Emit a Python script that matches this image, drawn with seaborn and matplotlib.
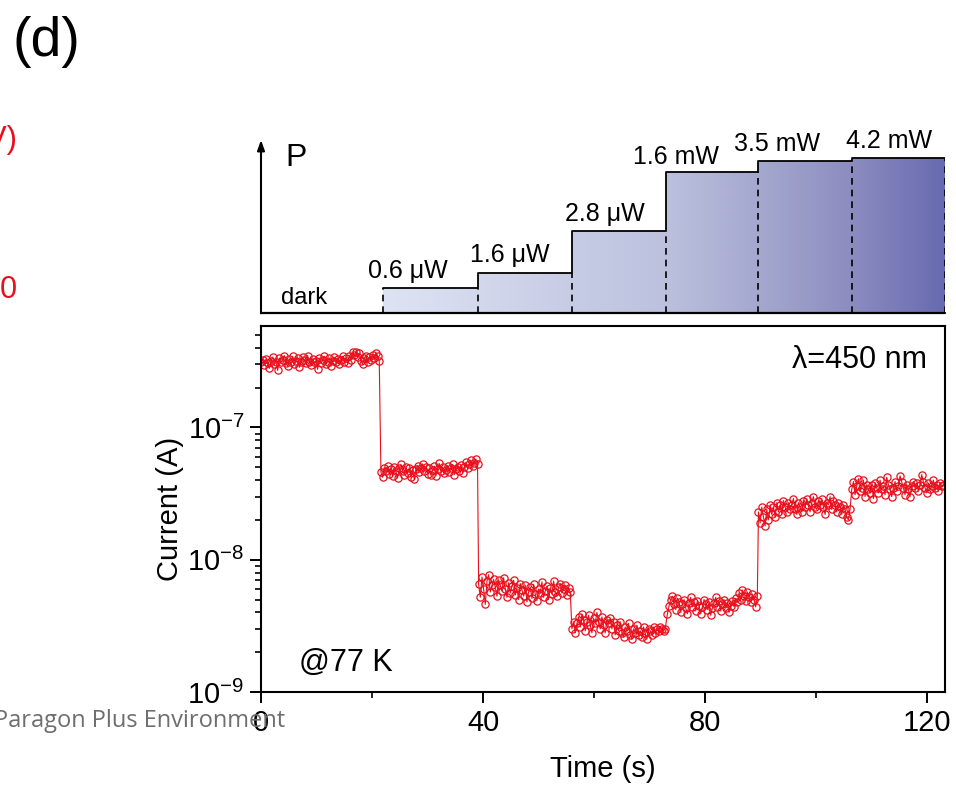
import numpy as np
import pandas as pd
import matplotlib
matplotlib.use("Agg")
import matplotlib.pyplot as plt
from matplotlib.colors import LinearSegmentedColormap
from matplotlib.patches import Polygon
from matplotlib.ticker import FixedLocator, FixedFormatter, NullFormatter
import seaborn as sns

# ---------------------------------------------------------------------------
# Photocurrent trace at 77 K, one list per illumination step
# (values given as mantissas; the scale of each step is noted in the name)
# ---------------------------------------------------------------------------
dark_e7 = [3.10, 3.25, 2.95, 3.30, 3.05, 2.80, 3.20, 3.40, 3.00, 3.15,
           2.70, 3.35, 3.10, 3.25, 3.50, 3.05, 2.90, 3.30, 3.15, 3.45,
           3.00, 3.20, 3.35, 2.85, 3.10, 3.40, 3.25, 3.05, 3.50, 3.15,
           2.95, 3.30, 3.10, 3.20, 2.75, 3.35, 3.05, 3.25, 3.45, 3.00,
           3.15, 3.35, 2.90, 3.20, 3.40, 3.10, 3.30, 3.00, 3.25, 3.45,
           3.15, 3.35, 3.05, 3.50, 3.25, 3.70, 3.55, 3.75, 3.40, 3.65,
           3.20, 3.00, 3.35, 3.50, 3.10, 3.40, 3.25, 3.55, 3.35, 3.65,
           3.45, 3.20]
uw06_e8 = [4.60, 4.20, 4.95, 4.70, 5.10, 4.45, 4.85, 4.30, 5.00, 4.65,
           4.15, 4.90, 5.25, 4.70, 4.40, 5.05, 4.55, 4.95, 4.25, 4.75,
           4.05, 4.85, 5.15, 4.60, 4.95, 5.30, 4.70, 5.05, 4.45, 4.90,
           4.35, 4.75, 5.10, 4.30, 4.85, 5.35, 4.65, 5.00, 4.50, 4.80,
           5.15, 4.60, 4.95, 5.25, 4.40, 4.85, 5.05, 4.70, 5.20, 4.55,
           5.00, 5.45, 4.90, 5.25, 5.65, 5.10, 5.40, 5.75, 5.30]
uw16_e9 = [6.5, 5.2, 7.4, 6.0, 4.6, 6.9, 7.7, 5.7, 6.4, 7.1,
           6.2, 5.3, 7.0, 6.4, 5.8, 7.3, 6.0, 5.2, 6.7, 5.6,
           6.3, 7.0, 5.4, 6.1, 5.0, 6.6, 5.9, 5.3, 6.4, 4.8,
           5.7, 6.2, 5.1, 6.5, 5.5, 4.9, 6.0, 5.6, 6.8, 5.2,
           5.8, 6.3, 5.0, 6.1, 5.5, 6.9, 5.7, 5.3, 6.2, 6.6,
           5.6, 6.0, 6.4, 5.4, 6.1, 5.7]
uw28_e9 = [3.0, 3.4, 2.8, 3.3, 3.7, 3.1, 3.9, 3.5, 2.9, 3.4,
           3.8, 3.2, 2.8, 3.6, 3.3, 4.0, 3.4, 3.0, 3.7, 3.2,
           2.8, 3.5, 3.3, 3.6, 3.0, 3.4, 2.7, 3.2, 2.9, 3.4,
           2.8, 2.6, 3.1, 2.9, 3.3, 2.7, 2.5, 3.0, 2.8, 3.2,
           2.7, 2.9, 2.6, 3.1, 2.8, 2.5, 3.0, 2.9, 2.7, 3.1,
           2.8, 3.0, 2.9, 3.1, 3.0, 2.9, 3.0]
mw16_e9 = [3.9, 4.5, 5.0, 5.3, 4.6, 4.2, 5.1, 4.8, 4.0, 4.6,
           5.0, 4.3, 3.9, 4.7, 5.2, 4.4, 4.8, 4.1, 4.9, 4.5,
           3.9, 4.4, 5.0, 4.6, 4.2, 4.8, 3.8, 4.3, 4.7, 5.2,
           4.4, 4.9, 4.1, 4.6, 5.0, 4.3, 4.7, 4.0, 4.5, 4.9,
           4.4, 5.1, 4.8, 5.6, 5.0, 5.9, 5.3, 4.9, 5.7, 5.2,
           4.8, 5.5, 5.0, 4.4, 5.3]
mw35_e8 = [2.3, 1.9, 2.5, 2.1, 1.8, 2.4, 2.0, 2.6, 2.2, 2.5,
           2.1, 2.7, 2.3, 2.6, 2.2, 2.8, 2.5, 2.3, 2.7, 2.4,
           2.6, 2.9, 2.4, 2.2, 2.7, 2.5, 2.3, 2.8, 2.5, 2.9,
           2.6, 2.3, 2.7, 3.0, 2.5, 2.4, 2.8, 2.6, 2.9, 2.5,
           2.2, 2.7, 2.6, 3.0, 2.4, 2.8, 2.6, 2.3, 2.7, 2.5,
           2.2, 2.6, 2.4, 2.1, 2.0, 2.4]
mw42_e8 = [3.4, 3.9, 3.1, 3.6, 4.1, 3.3, 3.5, 4.0, 3.0, 3.7,
           3.4, 3.2, 3.7, 2.9, 3.8, 3.5, 3.2, 4.0, 3.4, 3.6,
           3.1, 4.2, 3.7, 3.4, 3.0, 3.5, 3.9, 3.3, 3.6, 4.3,
           3.9, 3.5, 3.1, 3.7, 3.4, 3.0, 3.6, 3.9, 3.5, 3.8,
           3.3, 3.7, 4.4, 3.9, 3.5, 3.2, 3.8, 3.4, 3.6, 4.0,
           3.5, 3.7, 3.3, 3.8, 3.6, 3.7]

segments = [(dark_e7, 1e-7), (uw06_e8, 1e-8), (uw16_e9, 1e-9), (uw28_e9, 1e-9),
            (mw16_e9, 1e-9), (mw35_e8, 1e-8), (mw42_e8, 1e-8)]
segment_start_s = [0.0, 21.6, 39.2, 56.0, 73.2, 89.6, 106.4]
sample_dt = 0.3

# Schematic light-power staircase (arbitrary heights)
step_edges_s = [21.9, 39.1, 56.0, 73.0, 89.6, 106.5, 123.2]
step_heights = [25.6, 40.0, 82.3, 141.6, 152.6, 155.3]
step_labels = ["0.6 \u03bcW", "1.6 \u03bcW", "2.8 \u03bcW", "1.6 mW", "3.5 mW", "4.2 mW"]
label_x = [26.5, 44.8, 61.9, 74.7, 93.0, 113.2]
label_y = [42, 58, 99, 156, 169, 172]

x_ticks = [0, 40, 80, 120]
y_ticks = [1e-9, 1e-8, 1e-7]
y_tick_labels = ["10$^{-9}$", "10$^{-8}$", "10$^{-7}$"]

# ---------------------------------------------------------------------------
times, currents = [], []
for (vals, scale), t0 in zip(segments, segment_start_s):
    times.extend(t0 + sample_dt * np.arange(len(vals)))
    currents.extend(np.asarray(vals) * scale)
trace = pd.DataFrame({"time": times, "current": currents})

sns.set_theme(style="ticks")
plt.rcParams["font.family"] = ["Liberation Sans", "DejaVu Sans"]
plt.rcParams["mathtext.fontset"] = "custom"
plt.rcParams["mathtext.rm"] = "Liberation Sans"
plt.rcParams["mathtext.it"] = "Liberation Sans:italic"
plt.rcParams["mathtext.bf"] = "Liberation Sans:bold"

W, H = 956, 785
fig = plt.figure(figsize=(W / 100, H / 100), dpi=100)


def box(l, t, r, b):
    return [l / W, 1 - b / H, (r - l) / W, (b - t) / H]


red = "#e8101c"
xmax = 123.2

# --------------------------- current trace ---------------------------------
ax = fig.add_axes(box(261, 326, 945, 692))
sns.lineplot(data=trace, x="time", y="current", ax=ax, estimator=None, sort=False,
             color=red, lw=0.8, marker="o", markersize=5.2, markerfacecolor="none",
             markeredgecolor=red, markeredgewidth=0.9)
ax.set_yscale("log")
ax.set_xlim(0, xmax)
ax.set_ylim(1e-9, 5.85e-7)
ax.xaxis.set_major_locator(FixedLocator(x_ticks))
ax.xaxis.set_minor_locator(FixedLocator([20, 60, 100]))
ax.yaxis.set_major_locator(FixedLocator(y_ticks))
ax.yaxis.set_major_formatter(FixedFormatter(y_tick_labels))
ax.yaxis.set_minor_locator(matplotlib.ticker.LogLocator(base=10, subs=np.arange(2, 10)))
ax.yaxis.set_minor_formatter(NullFormatter())
ax.tick_params(which="major", length=8, width=1.4, labelsize=21, color="black",
               labelcolor="black", direction="out", pad=4)
ax.tick_params(which="minor", length=4.5, width=1.2, color="black", direction="out")
for s in ax.spines.values():
    s.set_linewidth(1.5)
    s.set_color("black")
ax.set_xlabel("Time (s)", fontsize=21, labelpad=13, color="black")
ax.set_ylabel("Current (A)", fontsize=21, labelpad=2, color="black")
ax.text(0.973, 0.907, "\u03bb=450 nm", transform=ax.transAxes, ha="right",
        va="center", fontsize=22, color="black")
ax.text(0.055, 0.079, "@77 K", transform=ax.transAxes, ha="left", va="center",
        fontsize=22, color="black")

# --------------------------- power staircase -------------------------------
ymax_p = 173.3
axp = fig.add_axes(box(261, 140, 945, 313.3))
axp.set_xlim(0, xmax)
axp.set_ylim(0, ymax_p)
axp.axis("off")

verts = [(step_edges_s[0], 0)]
for i, h in enumerate(step_heights):
    verts += [(step_edges_s[i], h), (step_edges_s[i + 1], h)]
verts += [(step_edges_s[-1], 0)]
area = Polygon(verts, closed=True, facecolor="none", edgecolor="none")
axp.add_patch(area)

grad_cmap = LinearSegmentedColormap.from_list(
    "power", [(0.0, "#dee3f4"), (0.5, "#bcc1de"), (0.7, "#a0a3cb"),
              (0.83, "#8c8dc0"), (1.0, "#686ab0")])
grad = np.linspace(0, 1, 512).reshape(1, -1)
img = axp.imshow(grad, cmap=grad_cmap, aspect="auto", interpolation="bilinear",
                 extent=[step_edges_s[0], step_edges_s[-1], 0, ymax_p], zorder=1)
img.set_clip_path(area)

# solid outline along the step tops
sx = step_edges_s
sy = step_heights + [step_heights[-1]]
sns.lineplot(x=sx, y=sy, ax=axp, drawstyle="steps-post", color="black", lw=1.3,
             estimator=None, sort=False, zorder=3)
# dashed dividers from the baseline up to the lower neighbouring level
lower = [0] + step_heights[:-1] + [step_heights[-1]]
for xe, lo in zip(step_edges_s, lower):
    if lo > 0:
        axp.plot([xe, xe], [0, lo], color="black", lw=1.2, ls=(0, (4, 3)), zorder=3)
axp.plot([sx[0], sx[0]], [0, step_heights[0]], color="black", lw=1.2,
         ls=(0, (4, 3)), zorder=3)

# baseline and arrowed power axis
axp.plot([0, xmax], [0, 0], color="black", lw=1.6, zorder=4, clip_on=False)
axp.annotate("", xy=(0, ymax_p), xytext=(0, 0),
             arrowprops=dict(arrowstyle="-|>,head_length=0.5,head_width=0.18",
                             color="black", lw=1.5, shrinkA=0, shrinkB=0),
             annotation_clip=False)
axp.text(6.3, 155, "P", fontsize=23, ha="center", va="center", color="black")
axp.text(7.7, 15, "dark", fontsize=17, ha="center", va="center", color="black")
for lx, ly, lab in zip(label_x, label_y, step_labels):
    axp.text(lx, ly, lab, fontsize=18, ha="center", va="center", color="black",
             clip_on=False)

# --------------------------- page furniture --------------------------------
fig.text(12 / W, 1 - 42 / H, "(d)", fontsize=40, ha="left", va="center",
         color="black")
fig.text(17 / W, 1 - 140 / H, "(V)", fontsize=22, ha="right", va="center",
         color=red)
fig.text(17 / W, 1 - 290 / H, "0", fontsize=22, ha="right", va="center",
         color=red)
fig.text(285 / W, 1 - 727 / H, "Paragon Plus Environment", fontsize=17,
         ha="right", va="baseline", color="#6e6e6e", family=["Open Sans", "DejaVu Sans"])

fig.savefig("out.png", dpi=100)
